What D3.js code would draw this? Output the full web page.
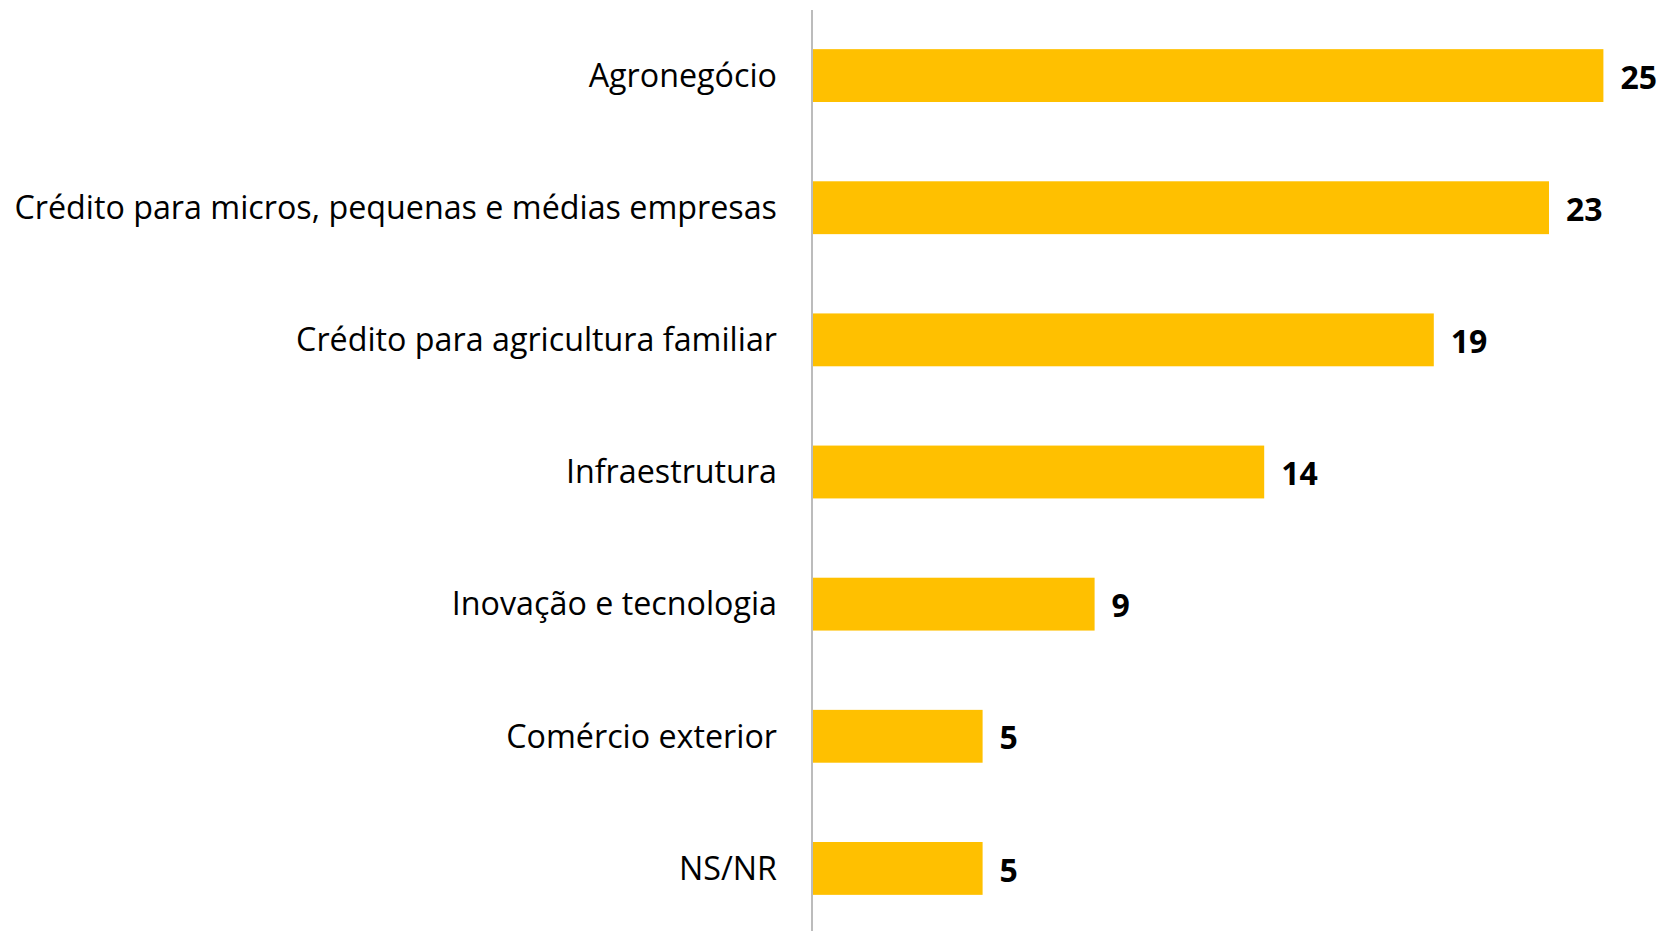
<!DOCTYPE html>
<html>
<head>
<meta charset="utf-8">
<script src="https://cdn.jsdelivr.net/npm/d3@7"></script>
<style>
  html, body { margin: 0; padding: 0; background: #fff; }
  svg { display: block; }
</style>
</head>
<body>
<svg id="chart" width="1664" height="931"></svg>
<script>
const categories = [
  "Agronegócio",
  "Crédito para micros, pequenas e médias empresas",
  "Crédito para agricultura familiar",
  "Infraestrutura",
  "Inovação e tecnologia",
  "Comércio exterior",
  "NS/NR"
];
const values = [24.7, 23.0, 19.4, 14.1, 8.8, 5.3, 5.3];
const valueLabels = ["25", "23", "19", "14", "9", "5", "5"];

const W = 1664, H = 931;
const axisX = 813;
const svg = d3.select("#chart");

const y = d3.scaleBand()
  .domain(categories)
  .range([9.5, 934.5])
  .paddingInner(0.6)
  .paddingOuter(0.3);

const x = d3.scaleLinear()
  .domain([0, 25])
  .range([axisX, axisX + 800]);

const fontFamily = "'Open Sans', 'Noto Sans', sans-serif";

// bars
svg.append("g").selectAll("rect")
  .data(categories)
  .join("rect")
  .attr("x", x(0))
  .attr("y", d => y(d))
  .attr("width", (d, i) => x(values[i]) - x(0))
  .attr("height", y.bandwidth())
  .attr("fill", "#FFC000");

// axis line
svg.append("line")
  .attr("x1", axisX - 1).attr("x2", axisX - 1)
  .attr("y1", 10).attr("y2", H)
  .attr("stroke", "#a6a6a6")
  .attr("stroke-width", 1.5);

// category labels
const catLabels = svg.append("g").selectAll("text")
  .data(categories)
  .join("text")
  .attr("x", 777)
  .attr("y", d => y(d) + y.bandwidth() / 2)
  .attr("dy", "0.35em")
  .attr("text-anchor", "end")
  .attr("font-family", fontFamily)
  .attr("font-size", 30)
  .attr("fill", "#000")
  .text(d => d);

// fit font size so longest label spans like the reference
let maxW = 0;
catLabels.each(function() { maxW = Math.max(maxW, this.getComputedTextLength()); });
const fs = 30 * 763 / maxW;
catLabels.attr("font-size", fs);

// value labels
svg.append("g").selectAll("text")
  .data(categories)
  .join("text")
  .attr("x", (d, i) => x(values[i]) + 17)
  .attr("y", d => y(d) + y.bandwidth() / 2 + 2)
  .attr("dy", "0.35em")
  .attr("font-family", fontFamily)
  .attr("font-weight", "bold")
  .attr("font-size", 32)
  .attr("fill", "#000")
  .text((d, i) => valueLabels[i]);
</script>
</body>
</html>
